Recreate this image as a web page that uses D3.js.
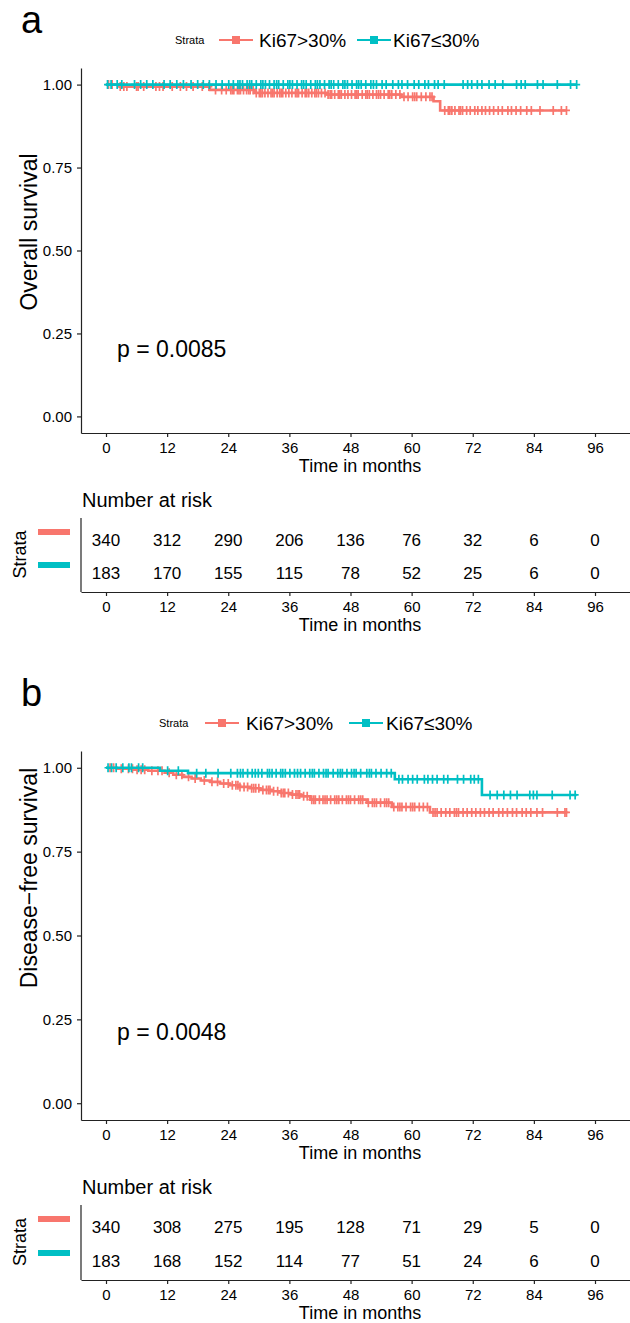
<!DOCTYPE html>
<html><head><meta charset="utf-8">
<script src="https://cdn.jsdelivr.net/npm/d3@7"></script>
<style>
body{margin:0;background:#fff}
svg text{font-family:"Liberation Sans",Arial,sans-serif;fill:#000}
</style>
</head><body><svg id="c" width="630" height="1323"></svg>
<script>
// ---------------- DATA ----------------
const strata = ["Ki67>30%", "Ki67≤30%"];
const timeTicks = [0, 12, 24, 36, 48, 60, 72, 84, 96];
const survTicks = [0, 0.25, 0.5, 0.75, 1];
const panelLetters = ["a", "b"];
const yTitles = ["Overall survival", "Disease\u2212free survival"];
const pValues = ["p = 0.0085", "p = 0.0048"];

// Overall survival, Ki67>30%
const osHighTimes = [0, 2.7, 20.4, 29.3, 43.4, 58.0, 64.3, 65.6];
const osHighSurv  = [1, 0.994, 0.984, 0.975, 0.970, 0.963, 0.950, 0.922];
const osHighEnd = 90.4;
const osHighCensor = [0.5,1.2,2.8,3.5,4.1,6.0,6.3,7.4,9.8,10.5,11.2,13.0,14.6,15.8,17.1,18.9,20.2,21.5,22.7,23.6,
  24.5,24.8,25.1,25.8,26.1,26.4,27.0,27.6,28.0,28.3,28.9,29.5,30.1,30.4,30.7,31.2,31.8,32.4,32.7,33.0,33.6,34.1,34.4,34.7,35.3,35.9,
  36.5,37.2,37.5,37.8,38.5,39.1,39.4,39.8,40.4,41.0,41.3,41.7,42.3,43.0,43.6,44.0,44.3,44.9,45.6,45.9,46.2,46.9,47.5,
  48.2,48.9,49.2,49.5,50.3,51.0,51.3,51.7,52.4,53.1,53.5,53.9,54.6,55.4,55.7,56.1,56.9,57.7,58.5,59.3,
  60.2,60.6,61.0,61.9,62.8,63.6,64.0,66.5,67.2,67.5,67.9,68.5,69.3,69.6,70.0,70.8,71.5,
  72.4,73.0,73.8,74.5,75.3,76.1,77.0,77.8,78.9,79.6,80.5,81.4,82.6,83.5,85.2,87.8,89.4,90.4];

// Overall survival, Ki67<=30%
const osLowTimes = [0];
const osLowSurv  = [1];
const osLowEnd = 92.4;
const osLowCensor = [0.3,1.0,2.2,3.1,5.6,6.8,8.0,9.2,11.4,12.6,13.9,15.2,16.7,18.0,19.1,20.3,21.6,22.8,24.1,25.0,
  25.9,26.3,26.8,27.7,28.2,28.6,29.5,30.4,30.8,31.3,32.1,33.0,33.5,33.9,34.8,35.7,36.1,36.6,37.5,38.4,38.8,39.3,40.2,41.1,41.5,42.0,42.9,
  43.8,44.2,44.7,45.6,46.5,46.9,47.4,48.3,49.2,49.6,50.1,51.0,52.0,52.5,53.1,54.2,55.0,56.3,57.4,58.1,59.2,60.5,61.4,62.6,
  63.3,64.5,65.2,66.4,70.1,71.0,71.8,72.9,73.8,75.2,76.4,77.9,80.6,81.5,82.3,84.7,85.8,88.6,91.2,92.4];

// Disease-free survival, Ki67>30%
const dfsHighTimes = [0, 2.1, 5.5, 8.3, 11.5, 13.2, 15.0, 16.8, 18.6, 20.5, 22.4, 24.3, 26.0, 28.2, 30.3, 32.5, 34.4, 36.5, 38.3, 40.1, 51.2, 56.1, 63.6];
const dfsHighSurv  = [1, 0.997, 0.994, 0.991, 0.985, 0.979, 0.973, 0.968, 0.962, 0.958, 0.953, 0.948, 0.943, 0.939, 0.934, 0.930, 0.925, 0.920, 0.915, 0.905, 0.896, 0.883, 0.867];
const dfsHighEnd = 90.4;
const dfsHighCensor = [0.8,1.5,3.0,4.4,5.2,6.1,6.9,7.6,9.0,10.2,11.0,12.4,13.8,14.9,16.2,17.5,19.3,20.8,21.9,23.1,
  24.0,24.8,25.5,25.9,26.3,27.1,27.8,28.6,29.0,29.4,30.0,30.8,31.5,31.9,32.2,32.9,33.7,34.4,34.8,35.1,35.8,36.6,37.3,37.7,38.0,
  38.8,39.5,40.4,40.8,41.1,41.9,42.6,43.0,43.4,44.1,44.9,45.3,45.7,46.4,47.2,47.6,48.0,48.8,49.6,50.0,50.4,51.5,52.3,52.7,53.1,53.9,
  54.7,55.1,55.5,56.5,57.3,57.7,58.1,58.9,59.8,60.2,60.6,61.5,62.3,63.1,64.2,64.6,65.0,65.8,66.7,67.5,68.4,68.8,69.2,70.1,70.9,
  71.8,72.6,73.5,74.3,75.2,76.0,77.1,77.9,78.8,79.8,80.6,81.7,82.5,83.4,84.6,85.7,88.6,90.1,90.4];

// Disease-free survival, Ki67<=30%
const dfsLowTimes = [0, 10.6, 16.1, 56.7, 73.8];
const dfsLowSurv  = [1, 0.991, 0.984, 0.966, 0.919];
const dfsLowEnd = 92.4;
const dfsLowCensor = [0.4,1.1,2.0,3.3,4.5,5.0,6.4,7.2,12.1,14.2,17.8,19.6,22.0,24.5,25.8,26.4,26.9,27.8,28.7,29.3,29.9,30.6,
  31.7,32.1,32.6,33.4,34.3,34.7,35.2,36.1,37.0,37.6,38.2,39.1,40.0,40.5,40.9,41.8,42.7,43.2,43.6,44.6,45.5,46.0,46.4,47.3,48.2,48.7,49.1,
  50.0,51.2,51.7,52.1,53.0,54.0,55.1,56.0,57.5,58.2,59.3,60.2,61.1,62.5,63.2,64.1,65.0,66.3,67.1,69.0,70.2,
  71.6,72.3,73.1,75.4,76.8,78.1,79.4,80.7,83.2,83.9,84.6,87.6,91.1,92.1];

// Numbers at risk
const osRiskHigh  = [340, 312, 290, 206, 136, 76, 32, 6, 0];
const osRiskLow   = [183, 170, 155, 115, 78, 52, 25, 6, 0];
const dfsRiskHigh = [340, 308, 275, 195, 128, 71, 29, 5, 0];
const dfsRiskLow  = [183, 168, 152, 114, 77, 51, 24, 6, 0];

// ---------------- DRAW ----------------
const svg = d3.select("#c");
const colors = ["#F8766D", "#00BFC4"];
const FONT = '"Liberation Sans", Arial, sans-serif';
const x = d3.scaleLinear().domain([-4.908, 102.87]).range([81, 630]);

function survAt(times, surv, t) {
  let v = surv[0];
  for (let i = 0; i < times.length; i++) if (times[i] <= t) v = surv[i];
  return v;
}

function panel(o) {
  const g = svg.append("g");
  const y = d3.scaleLinear().domain([-0.05, 1.05]).range([o.bottom, o.top]);

  // panel letter
  g.append("text").attr("x", 21).attr("y", o.letterY).attr("font-size", 38).text(o.letter);

  // legend
  const lg = g.append("g").attr("transform", `translate(0,${o.legY})`);
  lg.append("text").attr("x", o.leg[0]).attr("y", 0).attr("dy", "0.35em").attr("font-size", 11).text("Strata");
  strata.forEach((s, i) => {
    const k0 = o.leg[1 + i * 2], k1 = k0 + 34;
    lg.append("line").attr("x1", k0).attr("x2", k1).attr("y1", 0).attr("y2", 0)
      .attr("stroke", colors[i]).attr("stroke-width", 2);
    lg.append("rect").attr("x", (k0 + k1) / 2 - 4).attr("y", -4).attr("width", 8).attr("height", 8).attr("fill", colors[i]);
    lg.append("text").attr("x", o.leg[2 + i * 2]).attr("y", 0).attr("dy", "0.35em").attr("font-size", 19).text(s);
  });

  // axes
  const ya = g.append("g").attr("transform", "translate(81,0)")
    .call(d3.axisLeft(y).tickValues(survTicks).tickFormat(d3.format(".2f")).tickSize(4).tickSizeOuter(0).tickPadding(5));
  const xa = g.append("g").attr("transform", `translate(0,${o.bottom})`)
    .call(d3.axisBottom(x).tickValues(timeTicks).tickSize(4).tickSizeOuter(0).tickPadding(5));
  [ya, xa].forEach(a => {
    a.attr("font-family", FONT).attr("font-size", 15);
    a.selectAll("path,line").attr("stroke", "#222").attr("stroke-width", 1.2);
    a.selectAll("text").attr("fill", "#111");
  });
  g.append("text").attr("x", 360).attr("y", o.bottom + 39).attr("text-anchor", "middle").attr("font-size", 18).text("Time in months");
  g.append("text").attr("transform", `translate(37,${o.yTitleC}) rotate(-90)`).attr("text-anchor", "middle")
    .attr("font-size", 23).text(o.yTitle);

  // curves
  o.curves.forEach((c, i) => {
    const pts = c.times.map((t, j) => [t, c.surv[j]]);
    pts.push([c.end, c.surv[c.surv.length - 1]]);
    g.append("path").datum(pts)
      .attr("d", d3.line().x(d => x(d[0])).y(d => y(d[1])).curve(d3.curveStepAfter))
      .attr("fill", "none").attr("stroke", colors[i]).attr("stroke-width", 2.6);
    g.append("g").selectAll("path").data(c.censor).join("path")
      .attr("transform", t => `translate(${x(t)},${y(survAt(c.times, c.surv, t))})`)
      .attr("d", "M-3.5,0H3.5M0,-4.5V4.5").attr("stroke", colors[i]).attr("stroke-width", 1.7).attr("fill", "none");
  });

  // p value
  g.append("text").attr("x", 117).attr("y", o.pY).attr("font-size", 23).text(o.p);

  // risk table
  const t = o.table;
  g.append("text").attr("x", 82).attr("y", t.titleY).attr("dy", "0.35em").attr("font-size", 20).text("Number at risk");
  const ry = d3.scalePoint().domain(strata).range(t.rows);
  g.append("line").attr("x1", 81).attr("x2", 81).attr("y1", t.top).attr("y2", t.bottom).attr("stroke", "#222").attr("stroke-width", 1.2);
  const ta = g.append("g").attr("transform", `translate(0,${t.bottom})`)
    .call(d3.axisBottom(x).tickValues(timeTicks).tickSize(4).tickSizeOuter(0).tickPadding(5));
  ta.attr("font-family", FONT).attr("font-size", 15);
  ta.selectAll("path,line").attr("stroke", "#222").attr("stroke-width", 1.2);
  ta.selectAll("text").attr("fill", "#111");
  g.append("text").attr("x", 360).attr("y", t.bottom + 39).attr("text-anchor", "middle").attr("font-size", 18).text("Time in months");
  strata.forEach((s, i) => {
    g.append("rect").attr("x", 38).attr("y", ry(s) - 8 - 3).attr("width", 32).attr("height", 6).attr("fill", colors[i]);
    g.append("g").selectAll("text").data(t.risk[i]).join("text")
      .attr("x", (d, j) => x(timeTicks[j])).attr("y", ry(s)).attr("dy", "0.35em")
      .attr("text-anchor", "middle").attr("font-size", 17).text(d => d);
  });
  g.append("text").attr("transform", `translate(26,${(t.rows[0] + t.rows[1]) / 2 - 2}) rotate(-90)`)
    .attr("text-anchor", "middle").attr("font-size", 18).text("Strata");
}

panel({
  letter: panelLetters[0], letterY: 33, legY: 40, leg: [175, 219, 259, 357, 393],
  top: 68, bottom: 433, yTitle: yTitles[0], yTitleC: 232, pY: 357, p: pValues[0],
  curves: [
    {times: osHighTimes, surv: osHighSurv, end: osHighEnd, censor: osHighCensor},
    {times: osLowTimes, surv: osLowSurv, end: osLowEnd, censor: osLowCensor}
  ],
  table: {titleY: 500, top: 518, bottom: 592, rows: [540, 573], risk: [osRiskHigh, osRiskLow]}
});
panel({
  letter: panelLetters[1], letterY: 706, legY: 723, leg: [159, 205, 246, 349, 386],
  top: 751, bottom: 1120, yTitle: yTitles[1], yTitleC: 878, pY: 1040, p: pValues[1],
  curves: [
    {times: dfsHighTimes, surv: dfsHighSurv, end: dfsHighEnd, censor: dfsHighCensor},
    {times: dfsLowTimes, surv: dfsLowSurv, end: dfsLowEnd, censor: dfsLowCensor}
  ],
  table: {titleY: 1187, top: 1205, bottom: 1280, rows: [1227, 1261], risk: [dfsRiskHigh, dfsRiskLow]}
});
</script>
</body></html>
